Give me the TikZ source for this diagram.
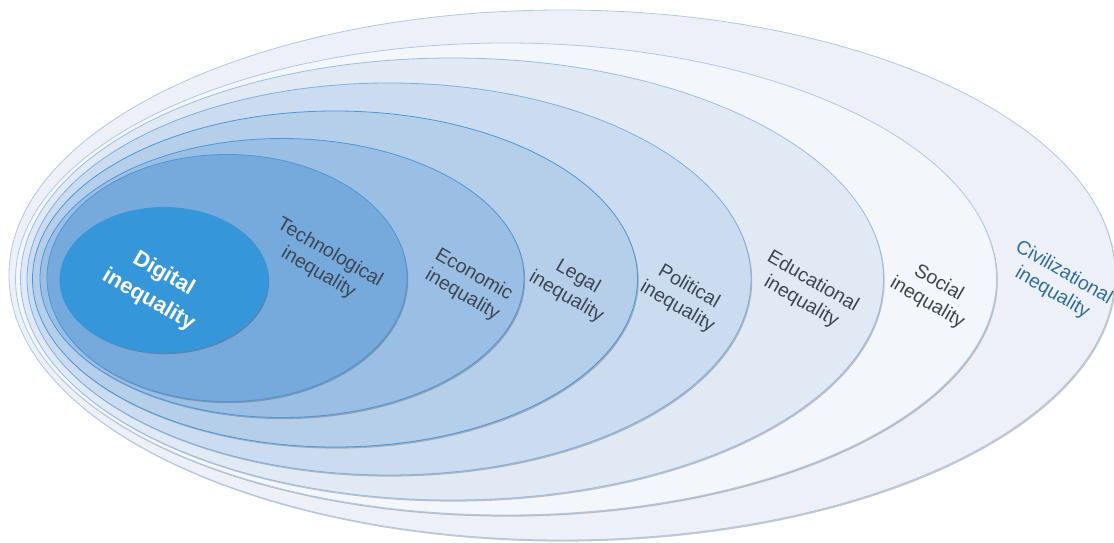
\documentclass[tikz,border=0pt]{standalone}
\usepackage{fontspec}
\setmainfont{Liberation Sans}
\usetikzlibrary{shapes.geometric}
\usetikzlibrary{shadows}

\definecolor{civfill}{HTML}{EDF1F7}
\definecolor{socfill}{HTML}{F3F6FB}
\definecolor{edufill}{HTML}{E1E9F5}
\definecolor{polfill}{HTML}{CCDCF0}
\definecolor{legfill}{HTML}{B5CEEA}
\definecolor{ecofill}{HTML}{9BBFE4}
\definecolor{tecfill}{HTML}{76AADC}
\definecolor{digfill}{HTML}{3597D9}
\definecolor{palerim}{HTML}{AFC7E6}
\definecolor{bluerim}{HTML}{4C97D8}
\definecolor{labelgray}{HTML}{3E4652}
\definecolor{labelblue}{HTML}{2F6E9E}

\begin{document}
\begin{tikzpicture}[x=1pt, y=-1pt,
    ring/.style={ellipse, inner sep=0pt, line width=0.8pt,
      drop shadow={shadow xshift=1.2pt, shadow yshift=-1.6pt, fill=black, opacity=0.22}},
    lbl/.style={rotate=-30, align=center, text=labelgray, font=\fontsize{19.5}{23}\selectfont}]
    \useasboundingbox (0,0) rectangle (1114,543);

    % rings, outermost first
    \node [ring, draw=palerim, fill=civfill, minimum width=1106pt, minimum height=530pt] (civ) at (562,275) {};
    \node [ring, draw=palerim, fill=socfill, minimum width=981pt, minimum height=472pt] (soc) at (506,279) {};
    \node [ring, draw=palerim!80!bluerim, fill=edufill, minimum width=863pt, minimum height=442pt] (edu) at (452,279) {};
    \node [ring, draw=palerim!50!bluerim, fill=polfill, minimum width=724pt, minimum height=392pt] (pol) at (389,279) {};
    \node [ring, draw=bluerim, fill=legfill, minimum width=605pt, minimum height=336pt] (leg) at (335,279) {};
    \node [ring, draw=bluerim, fill=ecofill, minimum width=484pt, minimum height=279pt] (eco) at (282,278) {};
    \node [ring, draw=bluerim, fill=tecfill, minimum width=360pt, minimum height=247pt] (tec) at (227,278) {};
    \node [ring, draw=digfill, fill=digfill, minimum width=208pt, minimum height=145pt] (dig) at (164,280) {};

    % labels
    \node [lbl, text=white, font=\fontsize{22}{30}\bfseries] (digtxt) at (156,287) {Digital\\inequality};
    \node [lbl] (tectxt) at (324,263) {Technological\\inequality};
    \node [lbl] (ecotxt) at (468,285) {Economic\\inequality};
    \node [lbl] (legtxt) at (572,287) {Legal\\inequality};
    \node [lbl] (poltxt) at (683,297) {Political\\inequality};
    \node [lbl] (edutxt) at (807,292) {Educational\\inequality};
    \node [lbl] (soctxt) at (933,293) {Social\\inequality};
    \node [lbl, text=labelblue] (civtxt) at (1058,283) {Civilizational\\inequality};
\end{tikzpicture}
\end{document}
